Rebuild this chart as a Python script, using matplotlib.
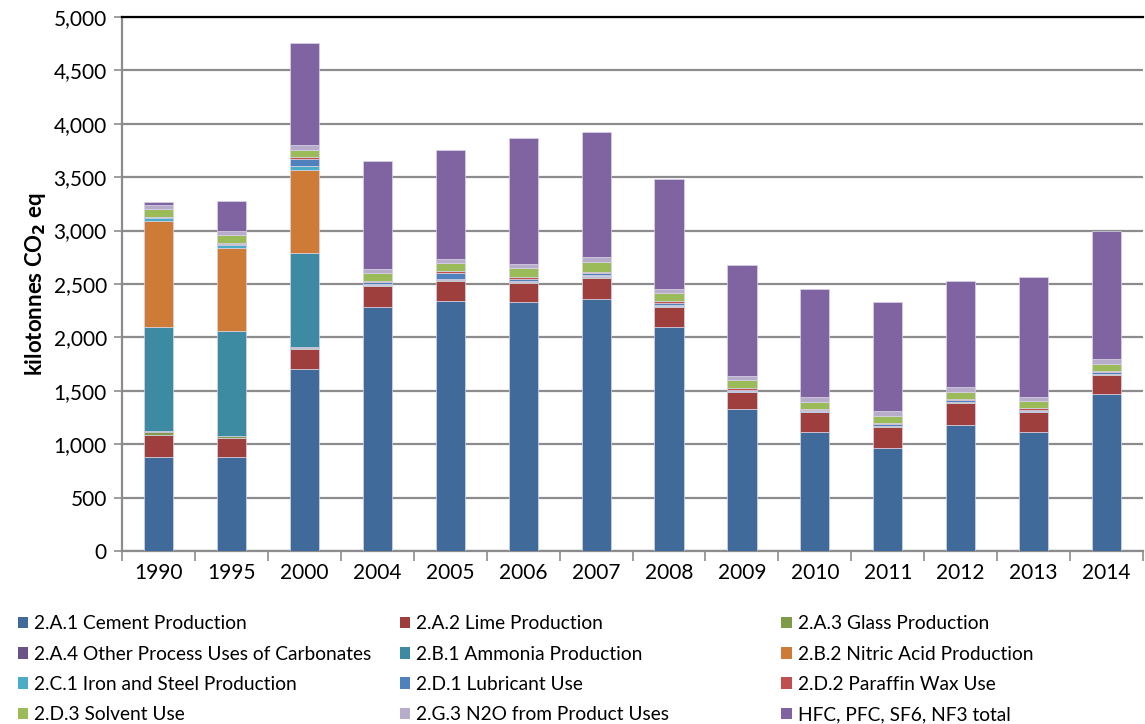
import numpy as np
import matplotlib
matplotlib.use("Agg")
import matplotlib.pyplot as plt
from matplotlib.patches import Patch

###############################################################################
# Data (kilotonnes CO2 eq)
years = ["1990", "1995", "2000", "2004", "2005", "2006", "2007",
         "2008", "2009", "2010", "2011", "2012", "2013", "2014"]

cement      = [880, 880, 1700, 2285, 2345, 2335, 2360, 2095, 1325, 1110, 965, 1175, 1110, 1465]
lime        = [210, 180, 190, 195, 187, 178, 200, 193, 160, 188, 197, 212, 188, 185]
glass       = [20, 15, 10, 8, 8, 8, 8, 5, 4, 4, 4, 4, 4, 4]
other_carb  = [10, 5, 6, 5, 5, 5, 8, 3, 3, 3, 3, 3, 3, 3]
ammonia     = [980, 975, 885, 0, 0, 0, 0, 0, 0, 0, 0, 0, 0, 0]
nitric      = [990, 780, 780, 0, 0, 0, 0, 0, 0, 0, 0, 0, 0, 0]
iron_steel  = [30, 34, 33, 8, 5, 5, 5, 3, 3, 3, 3, 3, 3, 3]
lubricant   = [5, 5, 67, 15, 50, 12, 20, 25, 14, 12, 18, 14, 15, 15]
paraffin    = [5, 5, 14, 8, 20, 25, 15, 15, 18, 10, 12, 10, 12, 12]
solvent     = [75, 80, 70, 78, 78, 80, 94, 78, 72, 69, 66, 69, 66, 66]
n2o         = [35, 33, 44, 40, 37, 37, 40, 40, 40, 45, 40, 44, 45, 44]
fgas        = [30, 280, 955, 1005, 1020, 1185, 1175, 1030, 1040, 1006, 1020, 990, 1120, 1195]

series = [
    ("2.A.1 Cement Production", cement, "#3F6A9A"),
    ("2.A.2 Lime Production", lime, "#9E3F3E"),
    ("2.A.3 Glass Production", glass, "#7F9A48"),
    ("2.A.4 Other Process Uses of Carbonates", other_carb, "#6A5288"),
    ("2.B.1 Ammonia Production", ammonia, "#3D8BA3"),
    ("2.B.2 Nitric Acid Production", nitric, "#CD7B37"),
    ("2.C.1 Iron and Steel Production", iron_steel, "#4BACC6"),
    ("2.D.1 Lubricant Use", lubricant, "#4F81BD"),
    ("2.D.2 Paraffin Wax Use", paraffin, "#C0504D"),
    ("2.D.3 Solvent Use", solvent, "#9BBB59"),
    ("2.G.3 N2O from Product Uses", n2o, "#B7ACC9"),
    ("HFC, PFC, SF6, NF3 total", fgas, "#8064A2"),
]

###############################################################################
plt.rcParams["font.family"] = ["Lato", "DejaVu Sans"]

fig = plt.figure(figsize=(11.45, 7.24), dpi=100)
ax = fig.add_axes([0.1066, 0.239, 0.8917, 0.7376])

x = np.arange(len(years))
bottom = np.zeros(len(years))
for name, vals, color in series:
    vals = np.array(vals, dtype=float)
    ax.bar(x, vals, width=0.4, bottom=bottom, color=color,
           edgecolor="#D8D4E6", linewidth=0.5, zorder=3)
    bottom += vals

# Axes styling
ax.set_ylim(0, 5000)
ax.set_xlim(-0.5, len(years) - 0.5)
ax.set_yticks(np.arange(0, 5001, 500))
ax.set_yticklabels([f"{v:,}" for v in range(0, 5001, 500)], fontsize=15)
ax.yaxis.grid(True, color="#8C8C8C", linewidth=1.6, zorder=0)
ax.tick_params(axis="y", direction="out", length=6, color="#8C8C8C", width=1.2, pad=5)

# category labels at centers, tick marks at boundaries
ax.set_xticks(np.arange(-0.5, len(years), 1.0))
ax.set_xticklabels([])
ax.tick_params(axis="x", which="major", direction="out", length=7,
               color="#8C8C8C", width=1.2)
ax.set_xticks(x, minor=True)
ax.set_xticklabels(years, minor=True, fontsize=15)
ax.tick_params(axis="x", which="minor", length=0, pad=9)

for side in ["left", "bottom"]:
    ax.spines[side].set_color("#8C8C8C")
    ax.spines[side].set_linewidth(1.6)
ax.spines["right"].set_visible(False)
ax.spines["top"].set_color("black")
ax.spines["top"].set_linewidth(1.6)

ax.set_ylabel("kilotonnes CO$_\\mathbf{2}$ eq", fontsize=16, fontweight="bold",
              labelpad=4)

###############################################################################
# Legend: three columns laid out like the original
col_x = [0.0155, 0.349, 0.6825]
for c in range(3):
    handles = []
    for r in range(4):
        name, vals, color = series[r * 3 + c]
        handles.append(Patch(facecolor=color, edgecolor="none", label=name))
    fig.legend(handles=handles, loc="upper left",
               bbox_to_anchor=(col_x[c], 0.150), frameon=False,
               fontsize=13.8, handlelength=0.55, handleheight=0.55,
               handletextpad=0.3, labelspacing=0.69, borderpad=0,
               borderaxespad=0)

fig.savefig("out.png", dpi=100)
